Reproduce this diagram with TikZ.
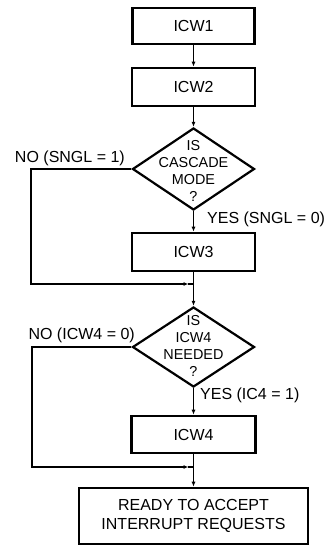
\documentclass[tikz,border=0pt]{standalone}
\usepackage{fontspec}
\setmainfont{Liberation Sans}
\usetikzlibrary{shapes.geometric,arrows.meta}
\begin{document}
\begin{tikzpicture}[x=1pt,y=-1pt,
  box/.style={draw,line width=2.6pt,rectangle,inner sep=0pt,align=center,
    font=\fontsize{16}{19}\selectfont},
  dia/.style={draw,line width=2.2pt,diamond,inner sep=0pt},
  diatext/.style={align=center,inner sep=0pt,font=\fontsize{14.4}{17}\selectfont},
  lab/.style={inner sep=0pt,font=\fontsize{16}{19}\selectfont},
  conn/.style={line width=1.3pt,-{Latex[length=5pt,width=4pt]}},
  plain/.style={line width=1.3pt}]
\useasboundingbox (0,0) rectangle (327,546);
\node[box,minimum width=122pt,minimum height=36pt] (icw1) at (193.5,26) {ICW1};
\node[box,minimum width=123pt,minimum height=38pt] (icw2) at (193.5,87) {ICW2};
\node[dia,minimum width=122pt,minimum height=82pt] (d1) at (193.5,169) {};
\node[diatext] (d1t) at (193.5,171) {IS\\CASCADE\\MODE\\?};
\node[box,minimum width=123pt,minimum height=38pt] (icw3) at (193.5,252) {ICW3};
\coordinate (m1) at (193.5,284);
\coordinate (c1) at (31,169);
\node[dia,minimum width=122pt,minimum height=80pt] (d2) at (193.5,347) {};
\node[diatext] (d2t) at (193.5,346) {IS\\ICW4\\NEEDED\\?};
\node[box,minimum width=124pt,minimum height=37pt] (icw4) at (193.5,434.5) {ICW4};
\coordinate (m2) at (193.5,467);
\coordinate (c2) at (32,347);
\node[box,minimum width=229pt,minimum height=56pt] (ready) at (193.5,516) {READY TO ACCEPT\\INTERRUPT REQUESTS};

\node[lab,anchor=east] (no1) at (125,158) {NO (SNGL = 1)};
\node[lab,anchor=west] (yes1) at (207,219) {YES (SNGL = 0)};
\node[lab,anchor=east] (no2) at (135,335) {NO (ICW4 = 0)};
\node[lab,anchor=west] (yes2) at (200,395) {YES (IC4 = 1)};

\draw[conn] (icw1.south) -- (icw2.north);
\draw[conn] (icw2.south) -- (d1.north);
\draw[conn] (d1.south) -- (icw3.north);
\draw[conn] (icw3.south) -- (d2.north);
\draw[conn] (d1.west) -- (c1) |- ([xshift=-5pt]m1);
\draw[plain] ([xshift=-6pt]m1) -- (m1);
\draw[conn] (d2.south) -- (icw4.north);
\draw[conn] (icw4.south) -- (ready.north);
\draw[conn] (d2.west) -- (c2) |- ([xshift=-5pt]m2);
\draw[plain] ([xshift=-6pt]m2) -- (m2);
\end{tikzpicture}
\end{document}
